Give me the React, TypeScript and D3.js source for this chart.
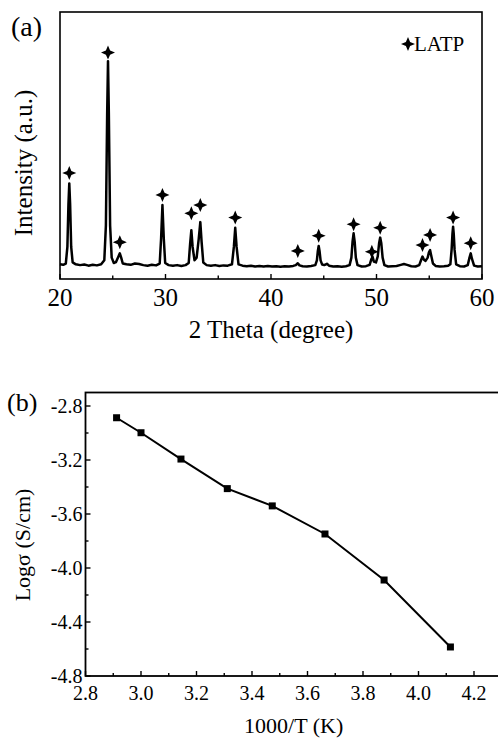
import React from 'react';
import * as d3 from 'd3';

const FONT = "'Liberation Serif', 'Times New Roman', Tinos, 'Nimbus Roman', 'DejaVu Serif', serif";

// (a) XRD pattern: [2 theta, intensity (a.u.)]
const xrdPattern: [number, number][] = [
    [20.0, 55], [20.3, 53], [20.55, 58], [20.7, 120], [20.8, 280], [20.88, 358], [20.96, 280], [21.06, 120],
    [21.2, 62], [21.5, 55], [21.9, 52], [22.3, 54], [22.7, 50], [23.1, 53], [23.5, 51], [23.9, 55],
    [24.2, 70], [24.35, 200], [24.47, 620], [24.55, 816], [24.63, 620], [24.75, 200], [24.9, 80],
    [25.1, 60], [25.3, 63], [25.55, 85], [25.67, 96], [25.8, 80], [25.95, 58], [26.3, 55], [26.7, 53],
    [27.1, 58], [27.5, 56], [27.9, 52], [28.3, 50], [28.7, 53], [29.1, 51], [29.45, 58], [29.58, 150],
    [29.71, 277], [29.84, 150], [29.97, 60], [30.3, 52], [30.7, 50], [31.1, 52], [31.5, 49], [31.9, 52],
    [32.2, 60], [32.33, 130], [32.45, 183], [32.57, 120], [32.75, 70], [32.95, 80], [33.15, 150],
    [33.3, 213], [33.42, 140], [33.58, 62], [33.9, 52], [34.3, 50], [34.7, 52], [35.1, 49], [35.5, 51],
    [35.9, 50], [36.3, 55], [36.48, 120], [36.61, 192], [36.74, 120], [36.92, 55], [37.3, 50], [37.7, 48],
    [38.1, 50], [38.5, 47], [38.9, 49], [39.3, 47], [39.7, 49], [40.1, 47], [40.5, 48], [40.9, 46],
    [41.3, 48], [41.7, 47], [42.1, 49], [42.35, 52], [42.54, 59], [42.7, 51], [43.0, 48], [43.4, 47],
    [43.8, 49], [44.2, 52], [44.35, 70], [44.44, 105], [44.52, 124], [44.6, 105], [44.7, 70], [44.85, 54],
    [45.05, 52], [45.3, 57], [45.5, 50], [45.9, 47], [46.3, 48], [46.7, 46], [47.1, 48], [47.45, 52],
    [47.62, 80], [47.73, 140], [47.83, 171], [47.93, 140], [48.04, 80], [48.2, 52], [48.6, 47], [49.0, 48],
    [49.35, 53], [49.52, 75], [49.63, 83], [49.75, 65], [49.95, 62], [50.12, 85], [50.25, 135], [50.35, 155],
    [50.45, 135], [50.58, 80], [50.75, 52], [51.1, 47], [51.5, 48], [51.9, 49], [52.3, 53], [52.6, 56],
    [52.9, 53], [53.3, 48], [53.7, 47], [54.05, 52], [54.22, 70], [54.36, 84], [54.5, 72], [54.65, 68],
    [54.85, 80], [54.97, 100], [55.08, 108], [55.2, 85], [55.35, 58], [55.6, 49], [56.0, 47], [56.4, 48],
    [56.8, 50], [57.0, 55], [57.12, 110], [57.2, 170], [57.26, 196], [57.32, 170], [57.4, 110], [57.55, 55],
    [57.9, 48], [58.3, 47], [58.65, 52], [58.8, 78], [58.93, 96], [59.05, 75], [59.25, 50], [59.6, 47],
    [60.0, 48]
];

// star markers over the LATP reflections: [2 theta, level]
const starTheta = [20.88, 24.55, 25.67, 29.71, 32.45, 33.3, 36.61, 42.54, 44.52, 47.83, 49.56, 50.35, 54.36, 55.08, 57.26, 58.93];
const starLevel = [397, 848, 138, 315, 246, 277, 230, 105, 162, 205, 102, 192, 127, 165, 230, 134];

const xrdMajor = [20, 30, 40, 50, 60];
const xrdMinor = [25, 35, 45, 55];

// (b) Arrhenius plot
const invTemp = [2.912, 3.0, 3.144, 3.311, 3.473, 3.663, 3.876, 4.115];
const logSigma = [-2.887, -2.998, -3.193, -3.412, -3.54, -3.748, -4.089, -4.585];

const tMajor = [2.8, 3.0, 3.2, 3.4, 3.6, 3.8, 4.0, 4.2];
const tMinor = [2.9, 3.1, 3.3, 3.5, 3.7, 3.9, 4.1];
const sMajor = [-4.8, -4.4, -4.0, -3.6, -3.2, -2.8];
const sMinor = [-4.6, -4.2, -3.8, -3.4, -3.0];

// four-pointed star used as the LATP marker
const starPath = (r: number) => {
    const k = r * 0.3;
    return `M0,${-r}L${k},${-k}L${r},0L${k},${k}L0,${r}L${-k},${k}L${-r},0L${-k},${-k}Z`;
};

const XrdPanel = () => {
    const x = d3.scaleLinear().domain([20, 60]).range([60, 482]);
    const y = d3.scaleLinear().domain([0, 1000]).range([279, 12]);
    const line = d3.line<[number, number]>().x(d => x(d[0])).y(d => y(d[1]));
    const [x0, x1] = x.range();
    const [yb, yt] = y.range();
    return (
        <g>
            <path d={line(xrdPattern) || ''} fill="none" stroke="#000" strokeWidth={2.5} strokeLinejoin="round" />
            {starTheta.map((t, i) => (
                <path key={'s' + i} d={starPath(7)} transform={`translate(${x(t)},${y(starLevel[i])})`} fill="#000" />
            ))}
            <rect x={x0} y={yt} width={x1 - x0} height={yb - yt} fill="none" stroke="#000" strokeWidth={1.6} />
            {xrdMajor.map(v => (
                <g key={'M' + v}>
                    <line x1={x(v)} x2={x(v)} y1={yb} y2={yb - 5} stroke="#000" strokeWidth={1.4} />
                    <text x={x(v)} y={306} textAnchor="middle" fontSize={25}>{v}</text>
                </g>
            ))}
            {xrdMinor.map(v => (
                <line key={'m' + v} x1={x(v)} x2={x(v)} y1={yb} y2={yb - 3.5} stroke="#000" strokeWidth={1.4} />
            ))}
            <text x={(x0 + x1) / 2} y={338} textAnchor="middle" fontSize={25}>2 Theta (degree)</text>
            <text transform="translate(32,163) rotate(-90)" textAnchor="middle" fontSize={25}>Intensity (a.u.)</text>
            <text x={11} y={36} fontSize={28}>(a)</text>
            <path d={starPath(7)} transform="translate(408,44)" fill="#000" />
            <text x={414} y={51} fontSize={21}>LATP</text>
        </g>
    );
};

const ConductivityPanel = () => {
    const x = d3.scaleLinear().domain([2.8, 4.3]).range([85.5, 501.75]);
    const y = d3.scaleLinear().domain([-4.8, -2.7]).range([676, 392.5]);
    const line = d3.line<number>().x(d => x(d)).y((_, i) => y(logSigma[i]));
    const [x0, x1] = x.range();
    const [yb, yt] = y.range();
    return (
        <g>
            <rect x={x0} y={yt} width={x1 - x0} height={yb - yt} fill="none" stroke="#000" strokeWidth={1.8} />
            {tMajor.map(v => (
                <g key={'tM' + v}>
                    <line x1={x(v)} x2={x(v)} y1={yb} y2={yb - 5} stroke="#000" strokeWidth={1.4} />
                    <text x={x(v)} y={700} textAnchor="middle" fontSize={20}>{v.toFixed(1)}</text>
                </g>
            ))}
            {tMinor.map(v => (
                <line key={'tm' + v} x1={x(v)} x2={x(v)} y1={yb} y2={yb - 3} stroke="#000" strokeWidth={1.4} />
            ))}
            {sMajor.map(v => (
                <g key={'sM' + v}>
                    <line x1={x0} x2={x0 + 5} y1={y(v)} y2={y(v)} stroke="#000" strokeWidth={1.4} />
                    <text x={x0 - 3} y={y(v)} dy="0.35em" textAnchor="end" fontSize={20}>{v.toFixed(1)}</text>
                </g>
            ))}
            {sMinor.map(v => (
                <line key={'sm' + v} x1={x0} x2={x0 + 3} y1={y(v)} y2={y(v)} stroke="#000" strokeWidth={1.4} />
            ))}
            <path d={line(invTemp) || ''} fill="none" stroke="#000" strokeWidth={2} />
            {invTemp.map((t, i) => (
                <rect key={'p' + i} x={x(t) - 3.5} y={y(logSigma[i]) - 3.5} width={7} height={7} fill="#000" />
            ))}
            <text x={(x0 + x1) / 2} y={733} textAnchor="middle" fontSize={22}>1000/T (K)</text>
            <text transform="translate(30,545) rotate(-90)" textAnchor="middle" fontSize={22}>Logσ (S/cm)</text>
            <text x={7} y={411} fontSize={26}>(b)</text>
        </g>
    );
};

const App = () => (
    <svg width={498} height={739} style={{ position: 'absolute', left: 0, top: 0, background: '#fff', fontFamily: FONT }}>
        <XrdPanel />
        <ConductivityPanel />
    </svg>
);

export default App;
